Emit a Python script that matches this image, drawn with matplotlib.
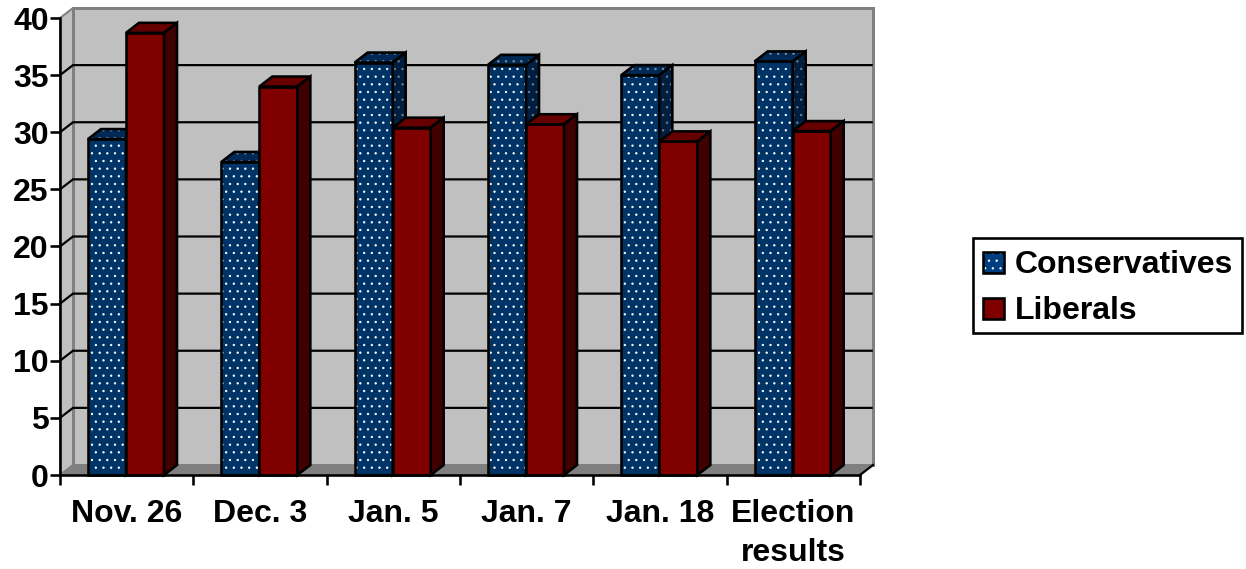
import matplotlib
matplotlib.use("Agg")
import matplotlib.pyplot as plt
from matplotlib.legend_handler import HandlerBase
from matplotlib.patches import Patch, Polygon, Rectangle

plt.rcParams['font.family'] = ['Liberation Sans', 'DejaVu Sans']
plt.rcParams['font.weight'] = 'bold'
plt.rcParams['hatch.linewidth'] = 0.6

categories = ["Nov. 26", "Dec. 3", "Jan. 5", "Jan. 7", "Jan. 18", "Election\nresults"]
conservatives = [29.4, 27.4, 36.1, 35.9, 35.0, 36.2]
liberals = [38.7, 34.0, 30.4, 30.7, 29.2, 30.1]
yticks = [0, 5, 10, 15, 20, 25, 30, 35, 40]

W, H, DPI = 1246, 569, 92
LW = 2.6 * 72 / DPI
THIN = 2.2 * 72 / DPI

blue = ["#003366", "#002a55", "#001f40"]
red = ["#800000", "#660000", "#400000"]

fig = plt.figure(figsize=((W + 0.01) / DPI, (H + 0.01) / DPI), dpi=DPI)
ax = fig.add_axes([60 / W, 1 - 475 / H, 800 / W, 457 / H])
ax.set_xlim(0, 6)
ax.set_ylim(0, 40)

# depth of the fake 3d box, in data units
dx = 13 / (800 / 6)
dy = 10 / (457 / 40)
bar_w = 38 / (800 / 6)
bar_start = 28 / (800 / 6)


def poly(pts, fc, ec="none", lw=0, hatch=None, z=2):
    p = Polygon(pts, closed=True, facecolor=fc, edgecolor=ec, linewidth=lw,
                hatch=hatch, clip_on=False, zorder=z, joinstyle="miter")
    ax.add_patch(p)


# walls and floor
poly([(dx, dy), (6 + dx, dy), (6 + dx, 40 + dy), (dx, 40 + dy)], "#c0c0c0", "#808080", 3 * 72 / DPI, z=1)
poly([(0, 0), (dx, dy), (dx, 40 + dy), (0, 40)], "#c0c0c0", "#808080", 2 * 72 / DPI, z=1)
poly([(0, 0), (6, 0), (6 + dx, dy), (dx, dy)], "#808080", "#808080", 1, z=1.1)

for t in yticks[1:-1]:
    ax.plot([0, dx, 6 + dx - 0.01], [t, t + dy, t + dy], color="black", lw=THIN, clip_on=False, zorder=1.5,
            solid_joinstyle="miter")
ax.plot([6, 6 + dx], [0, dy], color="black", lw=THIN, clip_on=False, zorder=1.5)


def bar3d(x, h, w, colors, dotted):
    faces = [
        ([(x, 0), (x + w, 0), (x + w, h), (x, h)], colors[0], "white"),
        ([(x, h), (x + w, h), (x + w + dx, h + dy), (x + dx, h + dy)], colors[1], "#8090a8"),
        ([(x + w, 0), (x + w + dx, dy), (x + w + dx, h + dy), (x + w, h)], colors[2], "#708090"),
    ]
    for pts, fc, dot in faces:
        if dotted:
            # hatch takes the edge colour, so the black outline goes on top separately
            poly(pts, fc, dot, 0, hatch="..")
            poly(pts, "none", "black", LW)
        else:
            poly(pts, fc, "black", LW)


for i in range(len(categories)):
    x = i + bar_start
    bar3d(x, conservatives[i], bar_w, blue, True)
    bar3d(x + bar_w, liberals[i], bar_w, red, False)

for side in ["top", "right"]:
    ax.spines[side].set_visible(False)
for side in ["left", "bottom"]:
    ax.spines[side].set_linewidth(LW)
    ax.spines[side].set_zorder(5)

ax.set_yticks(yticks)
ax.set_xticks(range(7))
ax.set_xticklabels([])
ax.set_xticks([i + 0.5 for i in range(6)], categories, minor=True, linespacing=1.4)
ax.tick_params(axis="y", labelsize=25, length=10 * 72 / DPI, width=LW, pad=1)
ax.tick_params(axis="x", which="major", length=10 * 72 / DPI, width=LW)
ax.tick_params(axis="x", which="minor", length=0, labelsize=25, pad=19)

LEG_SHIFT = 2.5


class Swatch(HandlerBase):
    def create_artists(self, legend, orig, xd, yd, width, height, fontsize, trans):
        s = 21 * 72 / DPI
        x0, y0 = -xd, -yd + (height - s) / 2 - LEG_SHIFT
        base = Rectangle((x0, y0), s, s, facecolor=orig.get_facecolor(), edgecolor="white", linewidth=0,
                         hatch=orig.get_hatch(), transform=trans)
        edge = Rectangle((x0, y0), s, s, facecolor="none", edgecolor="black", linewidth=LW, transform=trans)
        return [base, edge]


handles = [Patch(facecolor="#003f7f", hatch=".."), Patch(facecolor="#800000")]
leg = fig.legend(handles, ["Conservatives", "Liberals"], handler_map={Patch: Swatch()},
                 loc="center left", bbox_to_anchor=(973 / W, 1 - 285.5 / H), fontsize=25,
                 fancybox=False, framealpha=1, edgecolor="black", borderaxespad=0,
                 borderpad=0.3, labelspacing=0.5, handlelength=0.75, handletextpad=0.25)
leg.get_frame().set_linewidth(LW)
# text sits a little low in the original box
for t in leg.get_texts():
    t.set_y(-LEG_SHIFT)

fig.savefig("out.png", dpi=DPI)
